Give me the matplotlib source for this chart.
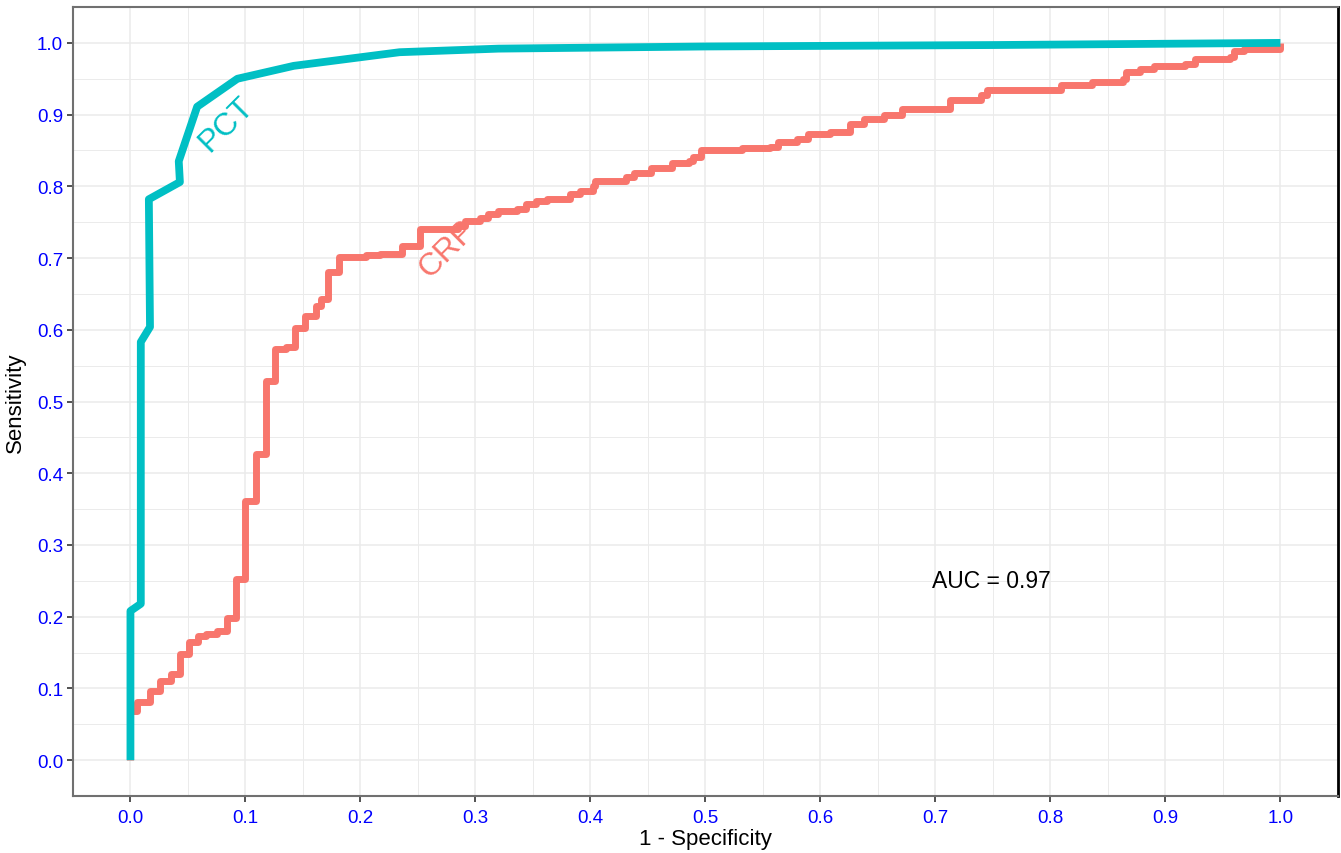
import matplotlib
matplotlib.use("Agg")
import matplotlib.pyplot as plt
from matplotlib.ticker import MultipleLocator

plt.rcParams["font.family"] = ["Liberation Sans", "DejaVu Sans"]

# PCT curve (1 - specificity, sensitivity)
pct_fpr = [0.000, 0.000, 0.009, 0.009, 0.017, 0.016, 0.043, 0.042, 0.058,
           0.093, 0.142, 0.234, 0.320, 0.500, 0.750, 1.000]
pct_tpr = [0.000, 0.208, 0.218, 0.583, 0.604, 0.782, 0.806, 0.835, 0.911,
           0.950, 0.968, 0.987, 0.992, 0.995, 0.997, 1.000]

# CRP curve, staircase: each level starts at the given fpr
crp_fpr = [0.000, 0.000, 0.006, 0.017, 0.026, 0.035, 0.043, 0.051, 0.059,
           0.066, 0.075, 0.084, 0.092, 0.100, 0.109, 0.118, 0.126, 0.135,
           0.143, 0.152, 0.161, 0.166, 0.172, 0.181, 0.205, 0.217, 0.236,
           0.252, 0.285, 0.291, 0.304, 0.311, 0.320, 0.336, 0.344, 0.353,
           0.362, 0.382, 0.391, 0.402, 0.404, 0.431, 0.438, 0.453, 0.471,
           0.486, 0.489, 0.496, 0.532, 0.556, 0.563, 0.580, 0.589, 0.608,
           0.626, 0.638, 0.655, 0.671, 0.713, 0.740, 0.745, 0.809, 0.836,
           0.863, 0.866, 0.878, 0.890, 0.917, 0.926, 0.956, 0.960, 0.968,
           1.000]
crp_tpr = [0.000, 0.069, 0.081, 0.097, 0.111, 0.120, 0.148, 0.165, 0.173,
           0.176, 0.180, 0.198, 0.252, 0.362, 0.427, 0.529, 0.573, 0.576,
           0.602, 0.619, 0.633, 0.643, 0.680, 0.701, 0.704, 0.706, 0.717,
           0.741, 0.745, 0.752, 0.756, 0.762, 0.766, 0.768, 0.775, 0.780,
           0.782, 0.789, 0.794, 0.800, 0.808, 0.813, 0.819, 0.825, 0.833,
           0.836, 0.841, 0.850, 0.853, 0.855, 0.862, 0.866, 0.873, 0.876,
           0.887, 0.894, 0.900, 0.908, 0.920, 0.927, 0.934, 0.941, 0.945,
           0.950, 0.959, 0.963, 0.968, 0.971, 0.978, 0.980, 0.989, 0.992,
           1.000]

TEAL = "#00BFC4"
SALMON = "#F8766D"

fig = plt.figure(figsize=(13.41, 8.54), dpi=100)
ax = fig.add_axes([0.0544, 0.0667, 0.9433, 0.9239])

ax.plot(crp_fpr, crp_tpr, drawstyle="steps-post", color=SALMON, lw=5.0,
        solid_joinstyle="round", solid_capstyle="butt", zorder=3)
ax.plot(pct_fpr, pct_tpr, color=TEAL, lw=5.6, solid_joinstyle="round",
        solid_capstyle="butt", zorder=4)

# curve labels (drawn under the lines)
ax.text(0.083, 0.887, "PCT", color=TEAL, fontsize=23, rotation=45,
        ha="center", va="center", zorder=2)
ax.text(0.276, 0.713, "CRP", color=SALMON, fontsize=23, rotation=45,
        ha="center", va="center", zorder=2)
ax.text(0.749, 0.25, "AUC = 0.97", color="black", fontsize=16.5,
        ha="center", va="center")

ax.set_xlim(-0.05, 1.05)
ax.set_ylim(-0.05, 1.05)
ax.xaxis.set_major_locator(MultipleLocator(0.1))
ax.yaxis.set_major_locator(MultipleLocator(0.1))
ax.xaxis.set_minor_locator(MultipleLocator(0.05))
ax.yaxis.set_minor_locator(MultipleLocator(0.05))
ax.xaxis.set_major_formatter(matplotlib.ticker.FormatStrFormatter("%.1f"))
ax.yaxis.set_major_formatter(matplotlib.ticker.FormatStrFormatter("%.1f"))

ax.grid(which="major", color="#EBEBEB", lw=1.1, zorder=0)
ax.grid(which="minor", color="#EBEBEB", lw=0.7, zorder=0)
ax.set_axisbelow(True)

ax.tick_params(which="major", length=4, width=1.2, color="#333333",
               labelcolor="#0000FF", labelsize=13.5)
ax.tick_params(axis="x", pad=5)
ax.tick_params(axis="y", pad=3)
ax.tick_params(which="minor", length=0)

for side in ["left", "top", "bottom"]:
    ax.spines[side].set_color("#707070")
    ax.spines[side].set_linewidth(1.5)
ax.spines["right"].set_color("black")
ax.spines["right"].set_linewidth(2)

ax.set_xlabel("1 - Specificity", fontsize=16)
ax.set_ylabel("Sensitivity", fontsize=16)
ax.xaxis.set_label_coords(0.5, -0.041)
ax.yaxis.set_label_coords(-0.037, 0.5)

fig.savefig("out.png", dpi=100)
